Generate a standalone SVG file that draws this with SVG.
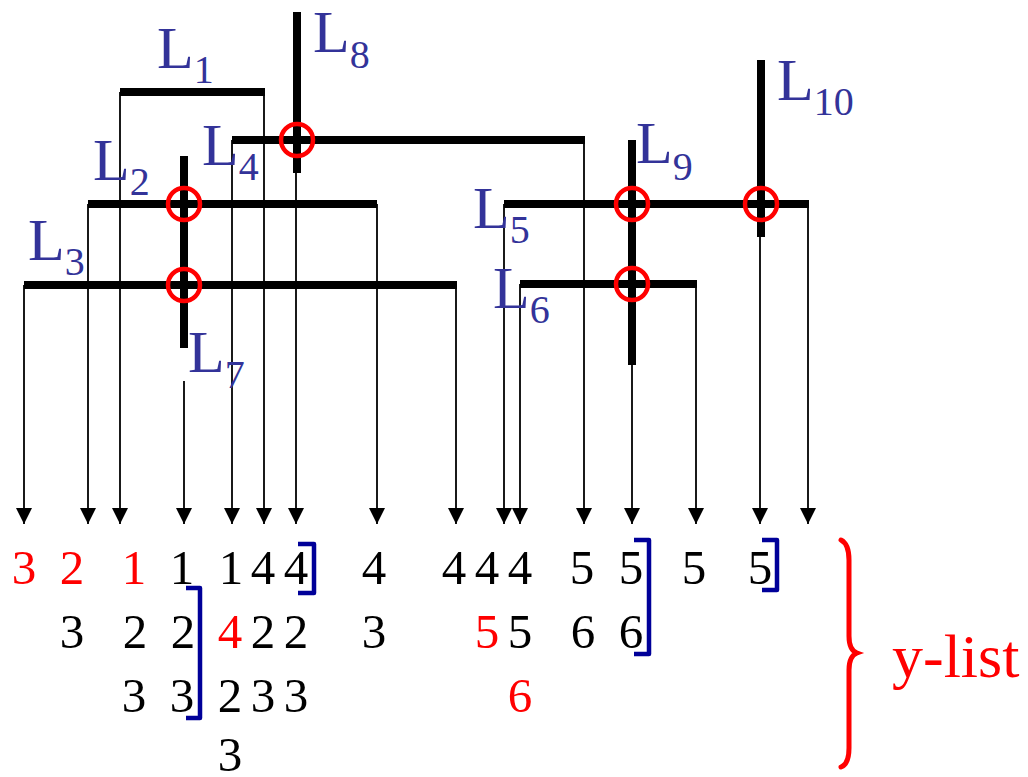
<svg xmlns="http://www.w3.org/2000/svg" width="1028" height="777" viewBox="0 0 1028 777">
<style>
.thick{stroke:#000;stroke-width:8;fill:none}
.thin{stroke:#000;stroke-width:1.8;fill:none}
.ring{stroke:#FF0000;stroke-width:4.5;fill:none}
.lbl{font-family:"Liberation Serif","DejaVu Serif","Times New Roman",serif;font-size:60px;fill:#333399}
.sub{font-size:40px}
.num{font-family:"Liberation Serif","DejaVu Serif","Times New Roman",serif;font-size:49px;fill:#000;text-anchor:middle}
.red{fill:#FF0000}
.brk{stroke:#000099;stroke-width:4.5;fill:none;stroke-linejoin:round}
.brace{stroke:#FF0000;stroke-width:5;fill:none;stroke-linecap:round}
.ylist{font-family:"Liberation Serif","DejaVu Serif","Times New Roman",serif;font-size:62px;fill:#FF0000}
</style>
<defs>
<marker id="ah" markerUnits="userSpaceOnUse" markerWidth="16" markerHeight="16" viewBox="0 0 16 16" refX="16" refY="8" orient="auto">
<path d="M0,0 L16,8 L0,16 z" fill="#000"/>
</marker>
</defs>
<rect width="1028" height="777" fill="#fff"/>
<g id="connectors">
<line class="thin" x1="24" y1="285" x2="24" y2="524" marker-end="url(#ah)"/>
<line class="thin" x1="88" y1="204" x2="88" y2="524" marker-end="url(#ah)"/>
<line class="thin" x1="120" y1="92" x2="120" y2="524" marker-end="url(#ah)"/>
<line class="thin" x1="184" y1="381" x2="184" y2="524" marker-end="url(#ah)"/>
<line class="thin" x1="232" y1="140" x2="232" y2="524" marker-end="url(#ah)"/>
<line class="thin" x1="264" y1="92" x2="264" y2="524" marker-end="url(#ah)"/>
<line class="thin" x1="296" y1="170" x2="296" y2="524" marker-end="url(#ah)"/>
<line class="thin" x1="377" y1="204" x2="377" y2="524" marker-end="url(#ah)"/>
<line class="thin" x1="456" y1="285" x2="456" y2="524" marker-end="url(#ah)"/>
<line class="thin" x1="504" y1="204" x2="504" y2="524" marker-end="url(#ah)"/>
<line class="thin" x1="520" y1="284" x2="520" y2="524" marker-end="url(#ah)"/>
<line class="thin" x1="584" y1="140" x2="584" y2="524" marker-end="url(#ah)"/>
<line class="thin" x1="632" y1="363" x2="632" y2="524" marker-end="url(#ah)"/>
<line class="thin" x1="696" y1="284" x2="696" y2="524" marker-end="url(#ah)"/>
<line class="thin" x1="760" y1="234" x2="760" y2="524" marker-end="url(#ah)"/>
<line class="thin" x1="808" y1="204" x2="808" y2="524" marker-end="url(#ah)"/>
</g>
<g id="L1"><line class="thick" x1="120" y1="92" x2="265" y2="92"/><text class="lbl" x="157" y="68">L<tspan class="sub" dy="15">1</tspan></text></g>
<g id="L2"><line class="thick" x1="88" y1="204" x2="377" y2="204"/><text class="lbl" x="93" y="180">L<tspan class="sub" dy="15">2</tspan></text></g>
<g id="L3"><line class="thick" x1="24" y1="285" x2="457" y2="285"/><text class="lbl" x="28" y="260">L<tspan class="sub" dy="15">3</tspan></text></g>
<g id="L4"><line class="thick" x1="232" y1="140" x2="585" y2="140"/><text class="lbl" x="202" y="165">L<tspan class="sub" dy="15">4</tspan></text></g>
<g id="L5"><line class="thick" x1="504" y1="204" x2="809" y2="204"/><text class="lbl" x="473" y="228">L<tspan class="sub" dy="15">5</tspan></text></g>
<g id="L6"><line class="thick" x1="520" y1="284" x2="697" y2="284"/><text class="lbl" x="493" y="308">L<tspan class="sub" dy="15">6</tspan></text></g>
<g id="L7"><line class="thick" x1="184" y1="156" x2="184" y2="348"/><text class="lbl" x="188" y="372">L<tspan class="sub" dy="16">7</tspan></text></g>
<g id="L8"><line class="thick" x1="297" y1="12" x2="297" y2="173"/><text class="lbl" x="313" y="52">L<tspan class="sub" dy="16">8</tspan></text></g>
<g id="L9"><line class="thick" x1="632" y1="140" x2="632" y2="365"/><text class="lbl" x="636" y="163">L<tspan class="sub" dy="17">9</tspan></text></g>
<g id="L10"><line class="thick" x1="761" y1="60" x2="761" y2="237"/><text class="lbl" x="777" y="100">L<tspan class="sub" dy="15">10</tspan></text></g>
<g id="intersections">
<circle class="ring" cx="297" cy="140" r="16"/>
<circle class="ring" cx="184" cy="204" r="16"/>
<circle class="ring" cx="184" cy="285" r="16"/>
<circle class="ring" cx="632" cy="204" r="16"/>
<circle class="ring" cx="761" cy="204" r="16"/>
<circle class="ring" cx="632" cy="284" r="16"/>
</g>
<g id="ylist-values">
<text class="num red" x="24" y="584">3</text>
<text class="num red" x="72" y="584">2</text>
<text class="num red" x="134" y="584">1</text>
<text class="num" x="182" y="584">1</text>
<text class="num" x="231" y="584">1</text>
<text class="num" x="263" y="584">4</text>
<text class="num" x="296" y="584">4</text>
<text class="num" x="374" y="584">4</text>
<text class="num" x="454" y="584">4</text>
<text class="num" x="487" y="584">4</text>
<text class="num" x="520" y="584">4</text>
<text class="num" x="582" y="584">5</text>
<text class="num" x="631" y="584">5</text>
<text class="num" x="694" y="584">5</text>
<text class="num" x="760" y="584">5</text>
<text class="num" x="72" y="648">3</text>
<text class="num" x="135" y="648">2</text>
<text class="num" x="183" y="648">2</text>
<text class="num red" x="230" y="648">4</text>
<text class="num" x="263" y="648">2</text>
<text class="num" x="296" y="648">2</text>
<text class="num" x="374" y="648">3</text>
<text class="num red" x="487" y="648">5</text>
<text class="num" x="520" y="648">5</text>
<text class="num" x="583" y="648">6</text>
<text class="num" x="631" y="648">6</text>
<text class="num" x="134" y="712">3</text>
<text class="num" x="182" y="712">3</text>
<text class="num" x="230" y="712">2</text>
<text class="num" x="263" y="712">3</text>
<text class="num" x="296" y="712">3</text>
<text class="num red" x="520" y="712">6</text>
<text class="num" x="230" y="771">3</text>
</g>
<g id="brackets">
<path class="brk" d="M298,544 H314 V593 H298"/>
<path class="brk" d="M186,588 H200 V718 H186"/>
<path class="brk" d="M634,540 H649 V654 H634"/>
<path class="brk" d="M762,540 H777 V590 H762"/>
</g>
<g id="ylist-brace">
<path class="brace" d="M841,540 Q849,544 849,560 V636 Q849,650 857,653 Q849,656 849,670 V748 Q849,764 841,767"/>
<text class="ylist" x="892" y="677">y-list</text>
</g>
</svg>
